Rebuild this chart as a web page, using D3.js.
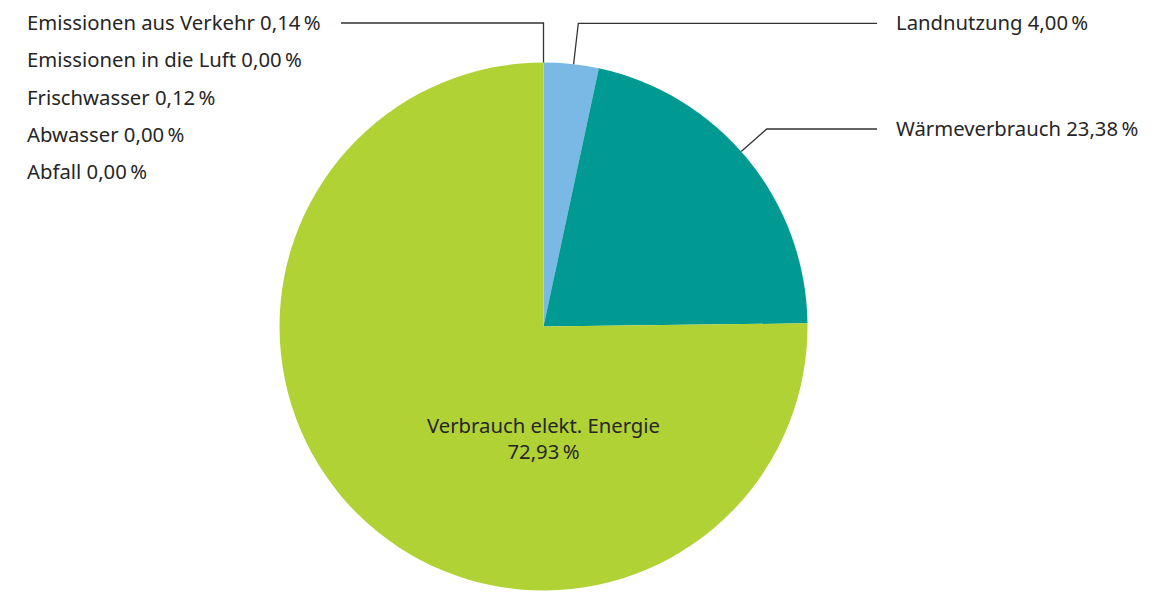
<!DOCTYPE html>
<html>
<head>
<meta charset="utf-8">
<script src="https://cdn.jsdelivr.net/npm/d3@7/dist/d3.min.js"></script>
<style>
  html, body { margin: 0; padding: 0; background: #fff; }
  svg text { font-family: "Noto Sans", "Open Sans", sans-serif; fill: #262626; }
</style>
</head>
<body>
<svg id="chart" width="1166" height="592"></svg>
<script>
// Categories in drawing order (clockwise from 12 o'clock)
const categories = ["Landnutzung", "Wärmeverbrauch", "Verbrauch elekt. Energie",
                    "Emissionen aus Verkehr", "Emissionen in die Luft", "Frischwasser", "Abwasser", "Abfall"];
// Percentages shown in the labels
const labelPercents = [4.00, 23.38, 72.93, 0.14, 0.00, 0.12, 0.00, 0.00];
// Slice sizes as drawn in the picture (share of the circle, %)
const drawnShares = [3.36, 21.45, 75.19, 0.00, 0.00, 0.00, 0.00, 0.00];
const colors = ["#7ab8e6", "#009a93", "#b1d235", "#b1d235", "#b1d235", "#b1d235", "#b1d235", "#b1d235"];

const fmt = v => v.toFixed(2).replace(".", ",") + "\u202F%";

const svg = d3.select("#chart");
const cx = 543.5, cy = 326.5, R = 264;
const g = svg.append("g").attr("transform", `translate(${cx},${cy})`);

const data = categories.map((c, i) => ({ name: c, drawn: drawnShares[i], pct: labelPercents[i], color: colors[i] }));
const pie = d3.pie().sort(null).value(d => d.drawn);
const arcs = pie(data);
const arc = d3.arc().innerRadius(0).outerRadius(R);

g.selectAll("path.slice").data(arcs.filter(a => a.data.drawn > 0)).join("path")
  .attr("class", "slice")
  .attr("d", arc)
  .attr("fill", d => d.data.color);

// Label layout
const fontSize = 20.3;
const rightX = 896, lineEndRight = 877;
const leftX = 27, lineEndLeft = 341;
const leftYs = [23, 60, 97.5, 134.5, 172]; // text middles for left stack
const layout = {
  "Landnutzung": { side: "right", y: 23.3, nudge: 0.5 },
  "Wärmeverbrauch": { side: "right", y: 129, nudge: -2.2 }
};

const lines = svg.append("g").attr("fill", "none").attr("stroke", "#333").attr("stroke-width", 1.3);
const labels = svg.append("g").attr("font-size", fontSize);

arcs.forEach((a, i) => {
  const name = a.data.name;
  const text = name + " " + fmt(a.data.pct);
  if (layout[name]) {
    const L = layout[name];
    const ang = (a.startAngle + a.endAngle) / 2 + L.nudge * Math.PI / 180;
    const sx = cx + R * Math.sin(ang), sy = cy - R * Math.cos(ang);
    const t = (sy - L.y) / Math.cos(ang);
    const ex = sx + t * Math.sin(ang);
    lines.append("path").attr("d", `M${sx},${sy}L${ex},${L.y}L${lineEndRight},${L.y}`);
    labels.append("text").attr("x", rightX).attr("y", L.y).attr("dy", "0.35em").text(text);
  } else if (a.data.drawn === 0) {
    const k = i - 3;
    const y = leftYs[k];
    if (k === 0) {
      const ang = a.startAngle;
      const sx = cx + R * Math.sin(ang), sy = cy - R * Math.cos(ang);
      lines.append("path").attr("d", `M${sx},${sy}L${sx},${y}L${lineEndLeft},${y}`);
    }
    labels.append("text").attr("x", leftX).attr("y", y).attr("dy", "0.35em").text(text);
  } else {
    // label inside the main slice
    const tl = labels.append("text").attr("text-anchor", "middle");
    tl.append("tspan").attr("x", cx).attr("y", cy + 106).text(name);
    tl.append("tspan").attr("x", cx).attr("y", cy + 132).text(fmt(a.data.pct));
  }
});
</script>
</body>
</html>
